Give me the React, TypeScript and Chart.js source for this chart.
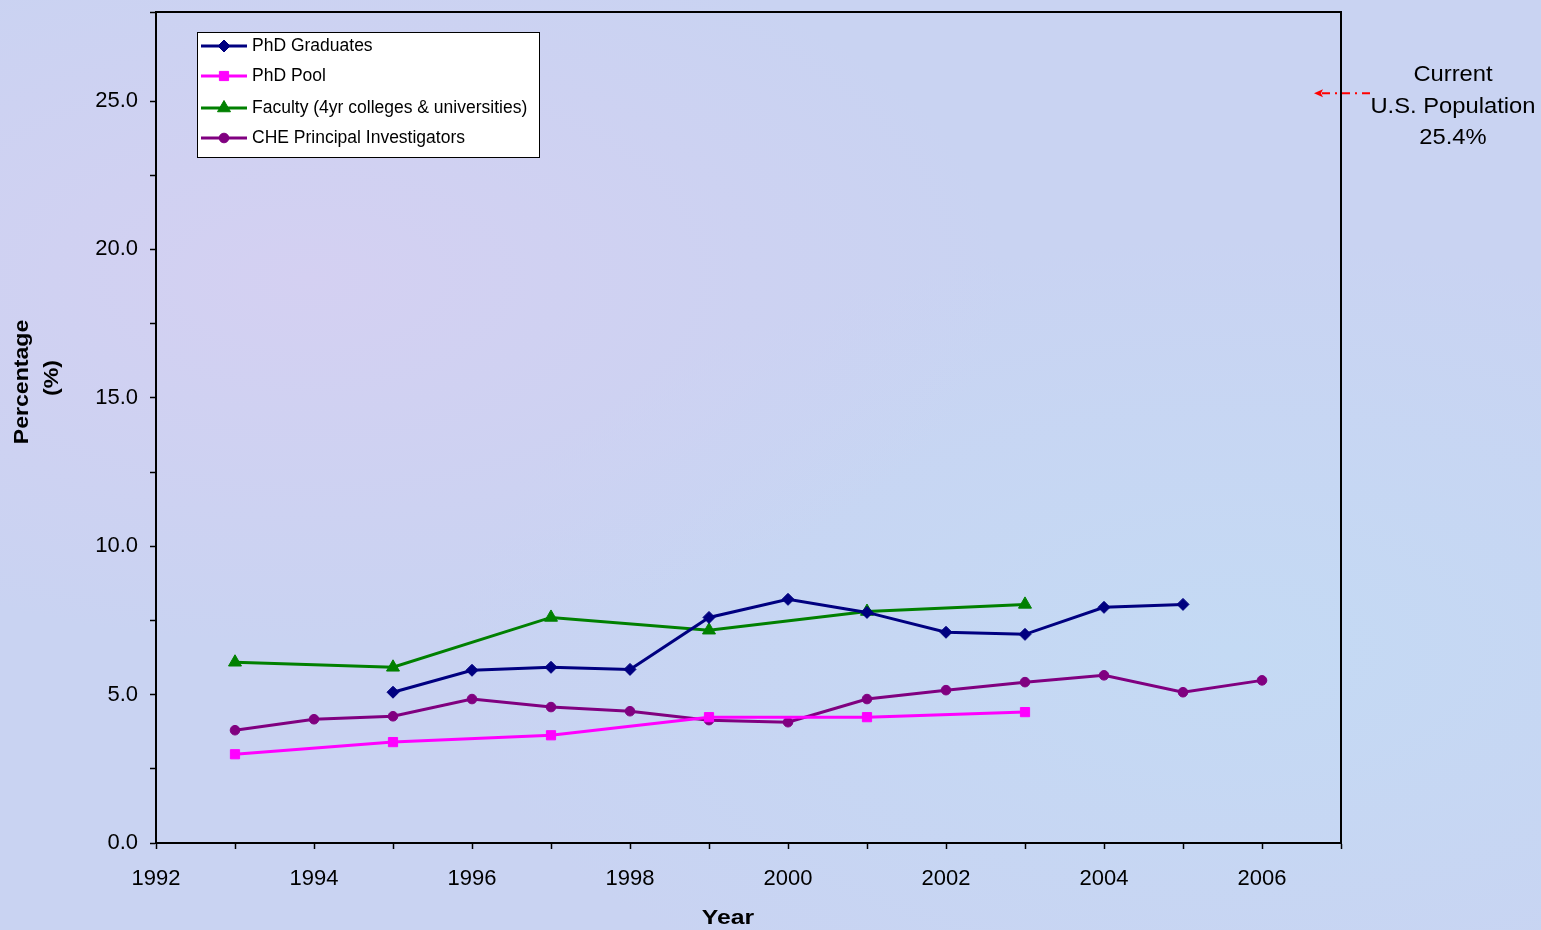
import React, { useEffect, useRef } from "react";
import { Chart, registerables } from "chart.js";
import { drawPoint } from "chart.js/helpers";

Chart.register(...registerables);

const seriesNames = [
  "PhD Graduates",
  "PhD Pool",
  "Faculty (4yr colleges & universities)",
  "CHE Principal Investigators",
];

const phdGradYears = [1995, 1996, 1997, 1998, 1999, 2000, 2001, 2002, 2003, 2004, 2005];
const phdGradValues = [5.08, 5.82, 5.92, 5.85, 7.6, 8.21, 7.77, 7.1, 7.03, 7.94, 8.04];

const phdPoolYears = [1993, 1995, 1997, 1999, 2001, 2003];
const phdPoolValues = [2.99, 3.4, 3.63, 4.24, 4.24, 4.41];

const facultyYears = [1993, 1995, 1997, 1999, 2001, 2003];
const facultyValues = [6.09, 5.92, 7.6, 7.17, 7.8, 8.04];

const piYears = [1993, 1994, 1995, 1996, 1997, 1998, 1999, 2000, 2001, 2002, 2003, 2004, 2005, 2006];
const piValues = [3.8, 4.17, 4.27, 4.85, 4.58, 4.44, 4.14, 4.07, 4.85, 5.15, 5.42, 5.65, 5.08, 5.48];

const seriesColors = ["#000080", "#ff00ff", "#008000", "#800080"];
const seriesMarkers = ["rectRot", "rect", "triangle", "circle"];
const markerRadii = [6, 6.5, 7.5, 4.8];

const populationValue = 25.4;
const annotationLines = ["Current", "U.S. Population", "25.4%"];

const xMin = 1992;
const xMax = 2007;
const yMin = 0;
const yMax = 28;

const FONT = "'Liberation Sans', Arial, sans-serif";

function toPoints(xs: number[], ys: number[]) {
  return xs.map((x, i) => ({ x, y: ys[i] }));
}

const framePlugin = {
  id: "frameAndExtras",
  afterDraw(chart: any) {
    const { ctx, chartArea, scales } = chart;
    ctx.save();
    // frame top + right
    ctx.strokeStyle = "#000";
    ctx.lineWidth = 2;
    ctx.beginPath();
    ctx.moveTo(chartArea.left, chartArea.top);
    ctx.lineTo(chartArea.right, chartArea.top);
    ctx.lineTo(chartArea.right, chartArea.bottom);
    ctx.stroke();

    // axis titles
    ctx.fillStyle = "#000";
    ctx.textAlign = "center";
    ctx.textBaseline = "middle";
    ctx.save();
    ctx.translate(728, 918);
    ctx.scale(1.18, 1);
    ctx.font = `bold 21px ${FONT}`;
    ctx.fillText("Year", 0, 0);
    ctx.restore();
    ctx.font = `bold 21px ${FONT}`;
    ctx.save();
    ctx.translate(22, 382);
    ctx.rotate(-Math.PI / 2);
    ctx.scale(1.1, 1);
    ctx.fillText("Percentage", 0, 0);
    ctx.restore();
    ctx.save();
    ctx.translate(52, 378);
    ctx.rotate(-Math.PI / 2);
    ctx.scale(1.1, 1);
    ctx.fillText("(%)", 0, 0);
    ctx.restore();

    // annotation
    ctx.fillStyle = "#000";
    const cx = 1453;
    const baseY = 75;
    annotationLines.forEach((t, i) => {
      ctx.save();
      ctx.translate(cx, baseY + i * 31.5);
      ctx.scale(1.08, 1);
      ctx.font = `22px ${FONT}`;
      ctx.fillText(t, 0, 0);
      ctx.restore();
    });

    // arrow
    const ay = scales.y.getPixelForValue(populationValue) + 4;
    ctx.strokeStyle = "#ff0000";
    ctx.lineWidth = 2;
    ctx.setLineDash([8, 5, 2, 5]);
    ctx.beginPath();
    ctx.moveTo(1370, ay);
    ctx.lineTo(1318, ay);
    ctx.stroke();
    ctx.setLineDash([]);
    ctx.fillStyle = "#ff0000";
    ctx.beginPath();
    ctx.moveTo(1314, ay);
    ctx.lineTo(1323, ay - 4);
    ctx.lineTo(1321, ay);
    ctx.lineTo(1323, ay + 4);
    ctx.closePath();
    ctx.fill();

    // legend
    const lx = 197, ly = 32, lw = 342, lh = 125;
    ctx.fillStyle = "#ffffff";
    ctx.fillRect(lx, ly, lw, lh);
    ctx.strokeStyle = "#000";
    ctx.lineWidth = 1;
    ctx.strokeRect(lx + 0.5, ly + 0.5, lw, lh);
    const rows = [46, 76, 108, 138];
    chart.data.datasets.forEach((ds: any, i: number) => {
      const y = rows[i];
      ctx.strokeStyle = ds.borderColor;
      ctx.lineWidth = 3;
      ctx.beginPath();
      ctx.moveTo(201, y);
      ctx.lineTo(247, y);
      ctx.stroke();
      ctx.fillStyle = ds.backgroundColor;
      ctx.strokeStyle = ds.borderColor;
      ctx.lineWidth = 1;
      drawPoint(ctx, { pointStyle: ds.pointStyle, radius: ds.pointRadius, borderWidth: 1, rotation: 0 } as any, 224, y);
      ctx.fillStyle = "#000";
      ctx.font = `17.5px ${FONT}`;
      ctx.textAlign = "left";
      ctx.textBaseline = "middle";
      ctx.fillText(ds.label, 252, y);
    });
    ctx.restore();
  },
};

export default function App() {
  const ref = useRef<HTMLCanvasElement>(null);
  useEffect(() => {
    document.body.style.margin = "0";
    const canvas = ref.current!;
    const allX = [phdGradYears, phdPoolYears, facultyYears, piYears];
    const allY = [phdGradValues, phdPoolValues, facultyValues, piValues];
    const datasets = seriesNames.map((name, i) => ({
      label: name,
      data: toPoints(allX[i], allY[i]),
      borderColor: seriesColors[i],
      backgroundColor: seriesColors[i],
      borderWidth: 3,
      pointStyle: seriesMarkers[i] as any,
      pointRadius: markerRadii[i],
      pointBorderWidth: 1,
      tension: 0,
    }));
    const chart = new Chart(canvas, {
      type: "line",
      data: { datasets },
      options: {
        animation: false,
        responsive: false,
        layout: { padding: { left: 0, right: 200, top: 12, bottom: 0 } },
        plugins: { legend: { display: false }, tooltip: { enabled: false } },
        scales: {
          x: {
            type: "linear",
            min: xMin,
            max: xMax,
            ticks: {
              stepSize: 1,
              color: "#000",
              font: { family: FONT, size: 22 },
              padding: 17,
              maxRotation: 0,
              autoSkip: false,
              callback: (v: any) => (Number(v) % 2 === 0 && Number(v) < xMax ? String(v) : ""),
            },
            grid: { drawOnChartArea: false, tickLength: 6, color: "#000", tickWidth: 1.5 },
            border: { color: "#000", width: 2 },
            afterFit: (s: any) => {
              s.height = 87;
              s.paddingLeft = 0;
              s.paddingRight = 0;
            },
          },
          y: {
            type: "linear",
            min: yMin,
            max: yMax,
            ticks: {
              stepSize: 2.5,
              color: "#000",
              font: { family: FONT, size: 22 },
              padding: 12,
              autoSkip: false,
              callback: (v: any) => (Number(v) % 5 === 0 ? Number(v).toFixed(1) : ""),
            },
            grid: { drawOnChartArea: false, tickLength: 6, color: "#000", tickWidth: 1.5 },
            border: { color: "#000", width: 2 },
            afterFit: (s: any) => {
              s.width = 156;
              s.paddingTop = 0;
              s.paddingBottom = 0;
            },
          },
        },
      },
      plugins: [framePlugin],
    });
    return () => chart.destroy();
  }, []);
  return (
    <div
      style={{
        position: "absolute",
        left: 0,
        top: 0,
        width: 1541,
        height: 930,
        background:
          "radial-gradient(ellipse at 20% 30%, #d4d0f2 0%, rgba(212,208,242,0) 40%), radial-gradient(ellipse at 80% 70%, #c4daf4 0%, rgba(196,218,244,0) 45%), #c9d3f2",
      }}
    >
      <canvas ref={ref} width={1541} height={930} style={{ display: "block" }} />
    </div>
  );
}
